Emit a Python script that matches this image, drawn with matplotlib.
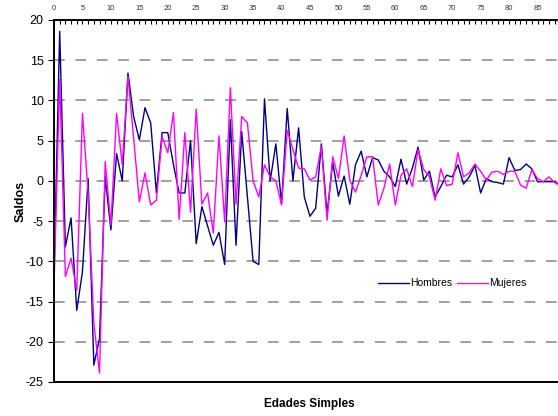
import matplotlib.pyplot as plt
import numpy as np

# data
edades = np.arange(0, 90)
hombres = [-12.0, 18.6, -8.2, -4.6, -16.1, -11.3, 0.3, -22.9, -19.6, 0.5,
           -6.1, 3.4, 0.0, 13.4, 8.0, 5.1, 9.1, 7.2, -1.5, 6.0,
           6.0, 2.0, -1.5, -1.5, 5.0, -7.8, -3.2, -5.6, -8.0, -6.4,
           -10.4, 7.6, -8.0, 6.1, -2.0, -10.0, -10.4, 10.2, 0.0, 4.6,
           -2.8, 9.0, 0.0, 6.6, -2.0, -4.4, -3.4, 4.6, -4.1, 2.3,
           -1.9, 0.6, -2.9, 2.0, 3.7, 0.5, 2.9, 2.6, 1.2, 0.5,
           -0.7, 2.7, -0.4, 1.6, 4.2, 0.1, 1.2, -2.0, -0.7, 0.7,
           0.5, 2.0, -0.4, 0.5, 1.9, -1.5, 0.3, -0.1, -0.2, -0.4,
           2.9, 1.3, 1.4, 2.1, 1.5, -0.1, -0.1, -0.1, -0.1, -0.5]
mujeres = [-13.2, 12.6, -11.9, -9.6, -13.6, 8.4, -1.5, -17.7, -23.9, 2.4,
           -5.5, 8.4, 2.0, 13.0, 5.3, -2.6, 1.0, -3.0, -2.4, 5.5,
           3.5, 8.5, -4.8, 6.0, -3.9, 8.9, -2.9, -1.5, -6.5, 5.6,
           -5.1, 11.6, -2.9, 8.0, 7.2, 0.0, -2.0, 2.0, 0.5, 0.0,
           -3.0, 6.3, 3.9, 1.6, 1.5, 0.1, 0.5, 4.3, -4.9, 3.0,
           0.3, 5.6, 0.1, -1.4, 0.7, 3.0, 3.0, -3.0, -0.9, 2.1,
           -3.0, 0.7, 1.5, -0.7, 3.9, 1.4, 0.5, -2.4, 1.5, -0.6,
           -0.4, 3.5, 0.5, 1.0, 2.1, 1.2, 0.1, 1.1, 1.2, 0.8,
           1.2, 1.2, -0.5, -0.9, 1.4, 0.3, -0.1, 0.5, -0.2, -0.6]
y_ticks = np.arange(-25, 21, 5)

plt.rcParams['font.family'] = ['Liberation Sans', 'DejaVu Sans']
plt.rcParams['axes.unicode_minus'] = False

fig = plt.figure(figsize=(5.58, 4.16), dpi=100)
ax = fig.add_axes([54 / 558, 34 / 416, 504 / 558, 362 / 416])

# dashed gridlines
for v in y_ticks[1:-1]:
    ax.axhline(v, color='#a0a0a0', lw=1.4, dashes=(5.5, 5.5), zorder=0)

ax.plot(edades, hombres, color='#000080', lw=1.0, label='Hombres')
ax.plot(edades, mujeres, color='#ff00ff', lw=1.0, label='Mujeres')

ax.set_xlim(0, 88.6)
ax.set_ylim(-25, 20)

# category axis on top
ax.xaxis.tick_top()
ax.set_xticks(np.arange(0, 89, 5))
ax.set_xticks(np.arange(0, 89, 1), minor=True)
ax.tick_params(axis='x', which='both', direction='in', length=3, width=0.8,
               labelsize=5.5, pad=6, labelcolor='#333333')
ax.set_yticks(y_ticks)
ax.tick_params(axis='y', direction='out', length=4, width=0.8, labelsize=9)

for side in ['left', 'bottom', 'top']:
    ax.spines[side].set_linewidth(1.4)
    ax.spines[side].set_color('black')
ax.spines['right'].set_visible(False)

ax.set_ylabel('Saldos', fontsize=9, fontweight='bold')
ax.yaxis.set_label_coords(-27 / 504, 0.5)
fig.text(0.555, 0.028, 'Edades Simples', fontsize=8.5, fontweight='bold',
         ha='center', va='center')

ax.legend(loc='center', bbox_to_anchor=(0.79, 0.273), ncol=2, frameon=False,
          fontsize=7.5, handlelength=3.0, handletextpad=0.1, columnspacing=0.4)

fig.savefig('out.png', dpi=100)
